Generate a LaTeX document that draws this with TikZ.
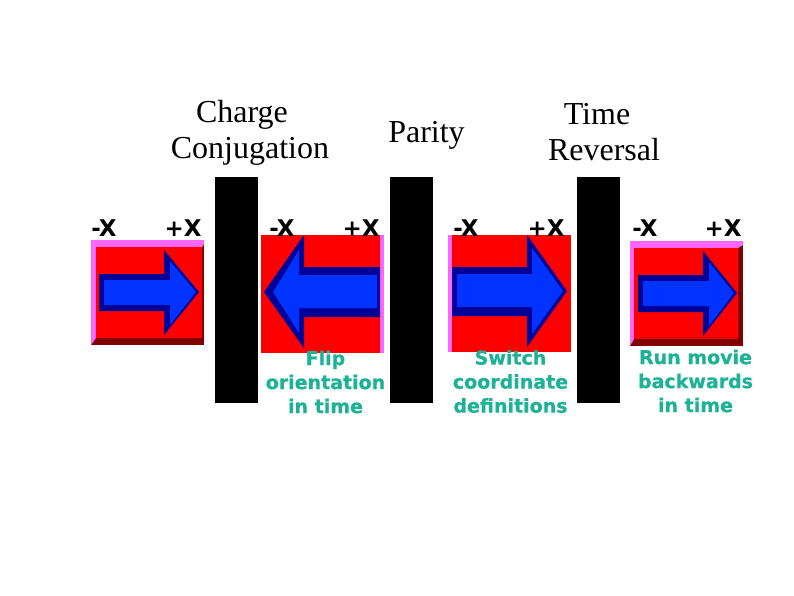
\documentclass[tikz,border=0pt]{standalone}
\usepackage{fontspec}
\setmainfont{Liberation Serif}
\newfontfamily\lblfont{DejaVu Sans Bold}
\newfontfamily\notefont{DejaVu Sans Bold}[FakeBold=0.6]
\definecolor{pk}{RGB}{255,102,255}
\definecolor{rd}{RGB}{255,0,0}
\definecolor{drd}{RGB}{128,0,0}
\definecolor{bl}{RGB}{0,51,255}
\definecolor{dbl}{RGB}{0,0,153}
\definecolor{tl}{RGB}{28,178,150}
\tikzset{
  x=1pt,y=-1pt,
  ttl/.style={align=center,inner sep=0pt,font=\fontsize{32}{36}\selectfont},
  axl/.style={inner sep=0pt,font=\lblfont\fontsize{23}{24}\selectfont},
  note/.style={align=center,inner sep=0pt,text=tl,font=\notefont\fontsize{19}{24}\selectfont},
  barbox/.style={fill=black,draw=none},
}
\begin{document}
\begin{tikzpicture}
\useasboundingbox (0,0) rectangle (794,595);
\fill[white] (0,0) rectangle (794,595);
% bars
\fill[barbox] (215,177) rectangle (258,403);
\fill[barbox] (390,177) rectangle (433,403);
\fill[barbox] (577,177) rectangle (620,403);
% panel 1
\fill[drd] (91,240) rectangle (204,345);
\fill[pk] (91,345) -- (91,240) -- (204,240) -- (204,244) -- (202,247) -- (96,247) -- (96,338) -- cycle;
\fill[rd] (96,247) rectangle (202,338);
\fill[dbl] (99,274) -- (164,274) -- (164,250) -- (199,292) -- (164,335) -- (164,311) -- (99,311) -- cycle;
\fill[bl] (104,280) -- (170,280) -- (170,261) -- (196,292) -- (170,325) -- (170,305) -- (104,305) -- cycle;
% panel 2
\fill[pk] (261,235) rectangle (384,353);
\fill[rd] (261,235) rectangle (380,353);
\fill[dbl] (380,267) -- (304,267) -- (304,235) -- (264,292) -- (304,348) -- (304,317) -- (380,317) -- cycle;
\fill[bl] (377,275) -- (299,275) -- (299,250) -- (273,292) -- (299,333) -- (299,308) -- (377,308) -- cycle;
% panel 3
\fill[pk] (448,235) rectangle (571,352);
\fill[rd] (452,235) rectangle (571,352);
\fill[dbl] (452,267) -- (527,267) -- (527,235) -- (567,291) -- (527,347) -- (527,316) -- (452,316) -- cycle;
\fill[bl] (457,274) -- (532,274) -- (532,248) -- (563,291) -- (532,334) -- (532,307) -- (457,307) -- cycle;
% panel 4
\fill[drd] (630,241) rectangle (743,346);
\fill[pk] (630,346) -- (630,241) -- (743,241) -- (743,245) -- (738,248) -- (634,248) -- (634,339) -- cycle;
\fill[rd] (634,248) rectangle (738,339);
\fill[dbl] (638,275) -- (703,275) -- (703,251) -- (737,293) -- (703,336) -- (703,312) -- (638,312) -- cycle;
\fill[bl] (643,281) -- (709,281) -- (709,262) -- (734,293) -- (709,326) -- (709,306) -- (643,306) -- cycle;
% titles
\node[ttl] (t1) at (250,132.5) {\hspace*{-16pt}Charge\\Conjugation};
\node[ttl] (t2) at (426.5,135) {Parity};
\node[ttl] (t3) at (604,132.5) {\hspace*{-14pt}Time\\Reversal};
% axis labels
\node[axl] (a1) at (104,228) {-X};
\node[axl] (a2) at (183,228) {+X};
\node[axl] (a3) at (282,228) {-X};
\node[axl] (a4) at (361,228) {+X};
\node[axl] (a5) at (466,228) {-X};
\node[axl] (a6) at (546,228) {+X};
\node[axl] (a7) at (645,228) {-X};
\node[axl] (a8) at (723,228) {+X};
% notes
\node[note] (n1) at (325.5,382) {Flip\\orientation\\in time};
\node[note] (n2) at (510.5,381.5) {Switch\\coordinate\\definitions};
\node[note] (n3) at (695.5,381) {Run movie\\backwards\\in time};
\end{tikzpicture}
\end{document}
